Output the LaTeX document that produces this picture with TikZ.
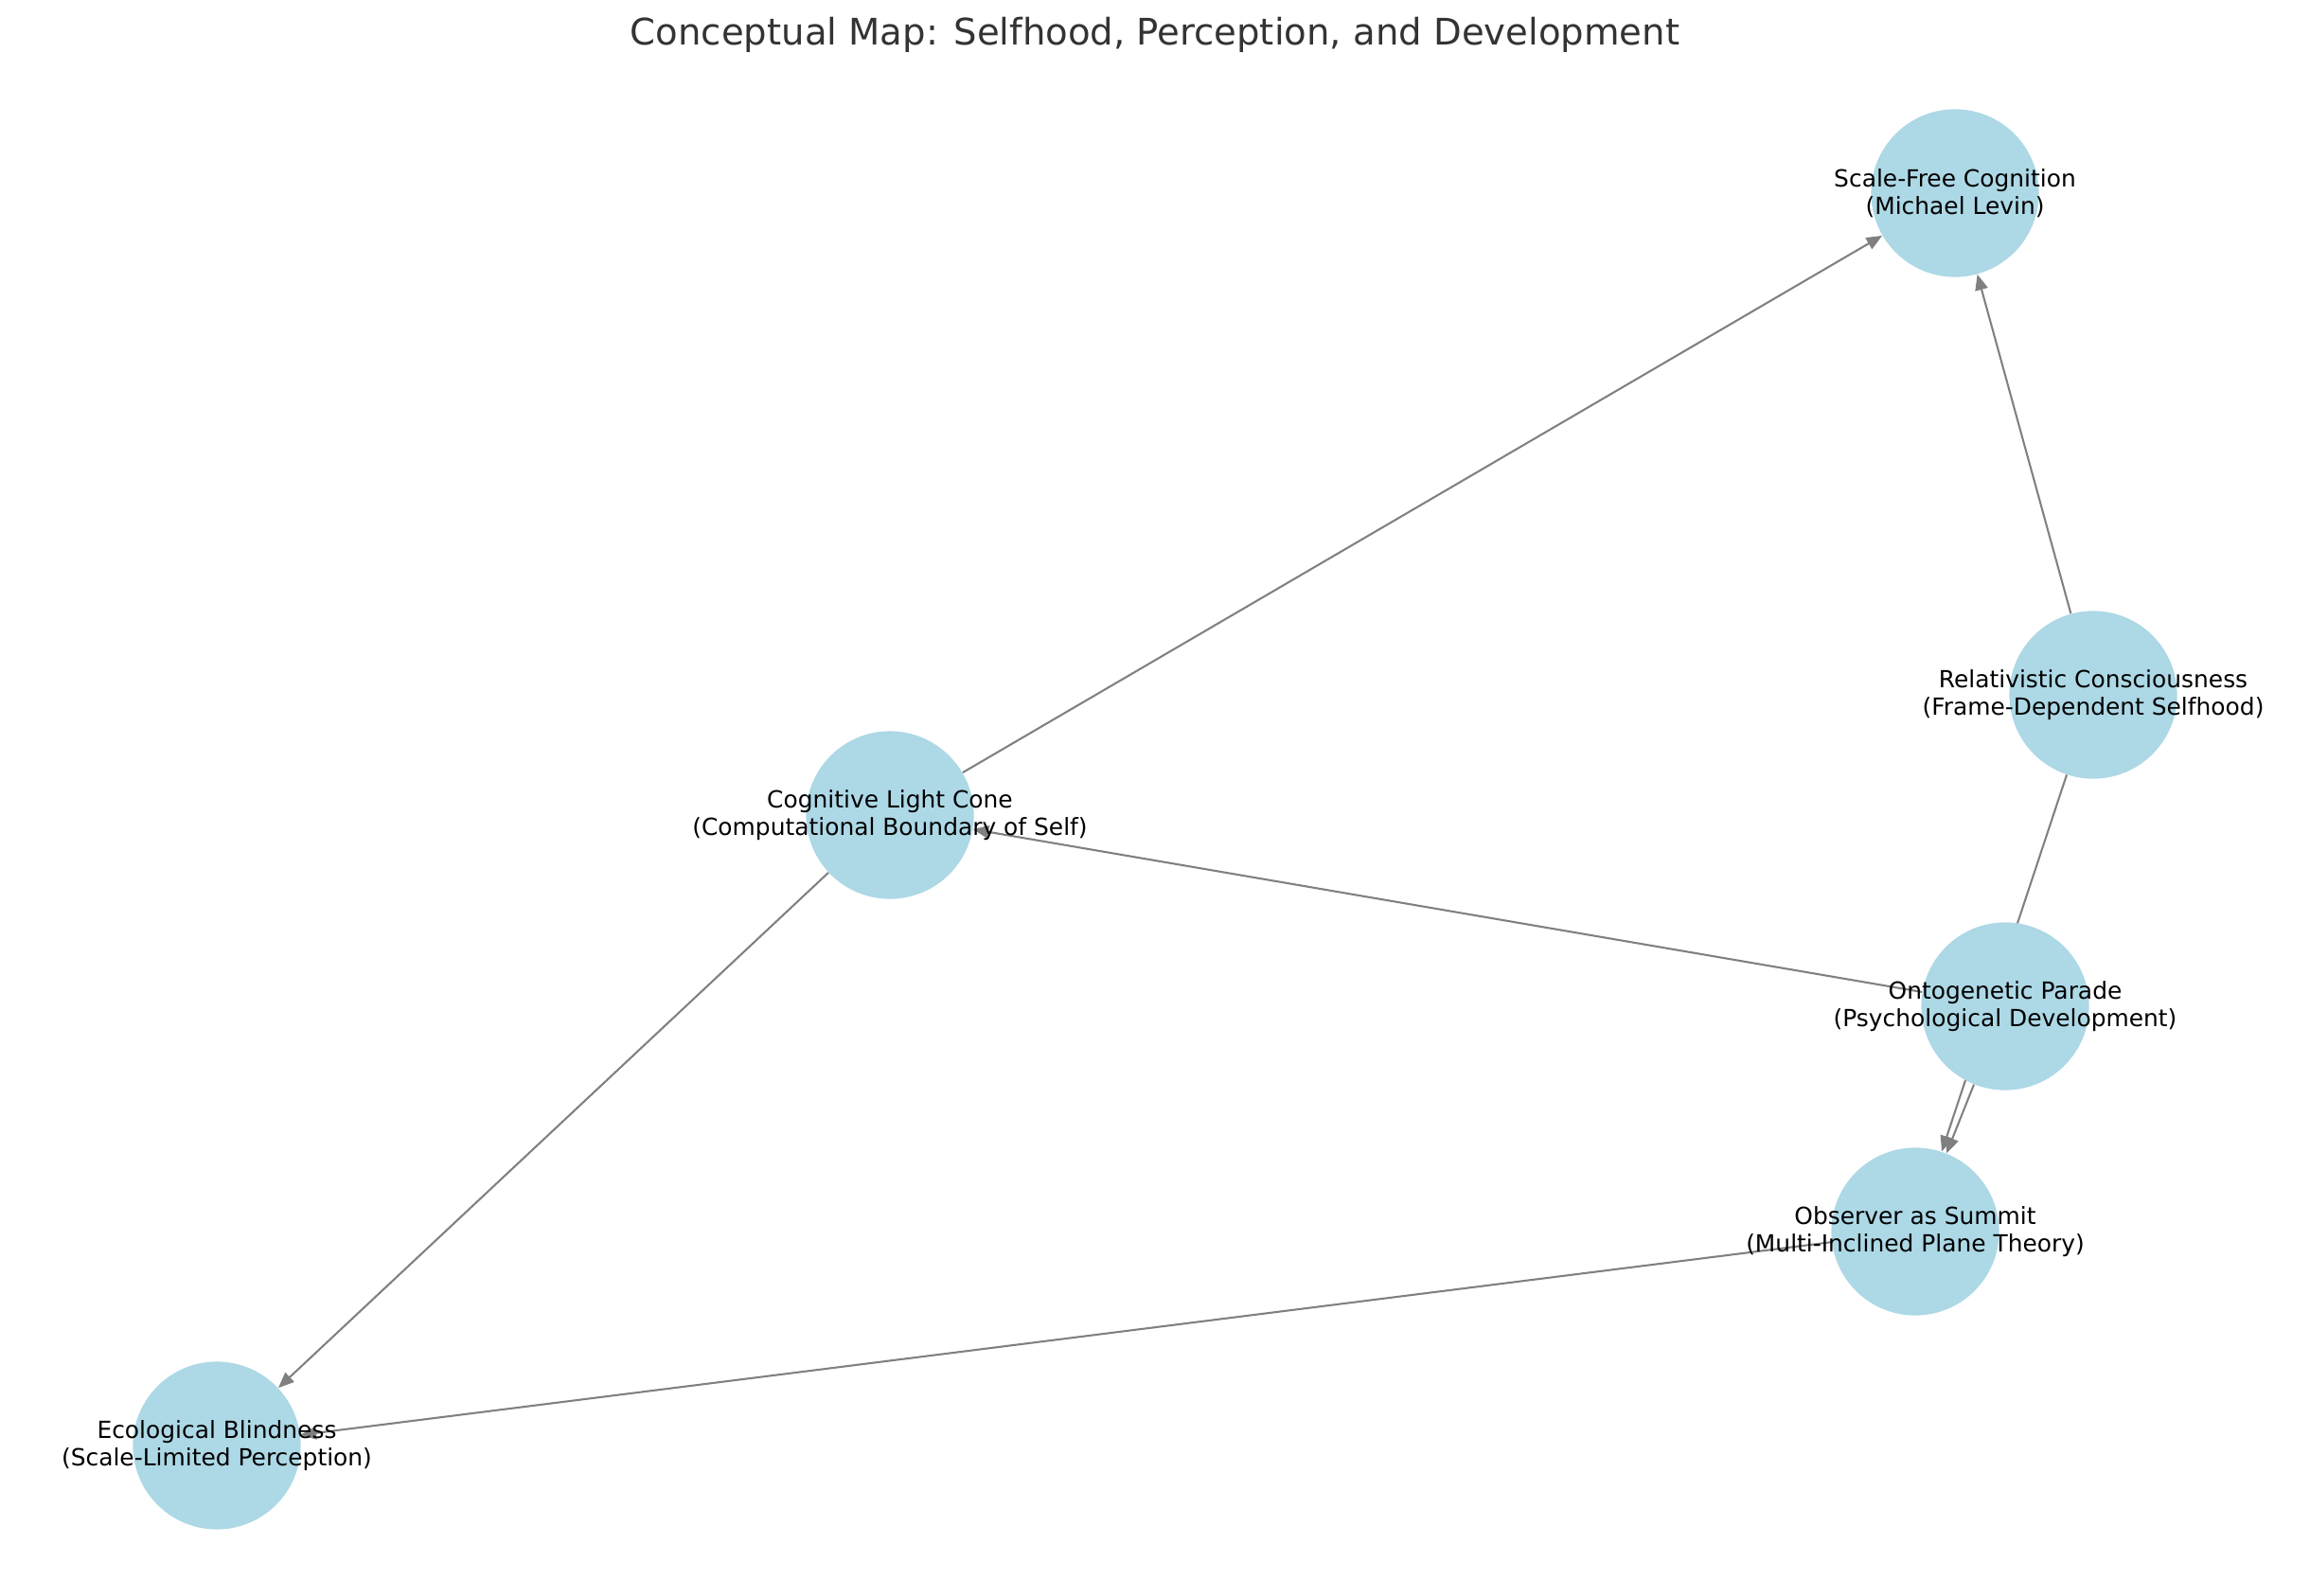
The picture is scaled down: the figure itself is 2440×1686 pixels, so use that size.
\documentclass[tikz,border=0pt]{standalone}
\usepackage{fontspec}
\setmainfont{DejaVu Sans}
\usepackage{tikz}
\usetikzlibrary{arrows.meta, backgrounds}
\usepackage{xcolor}
\definecolor{nodeblue}{HTML}{ADD8E6}
\definecolor{edgegray}{HTML}{808080}
\definecolor{titlegray}{HTML}{333333}

\begin{document}
\begin{tikzpicture}[x=0.016933cm, y=-0.016933cm,
  concept/.style={circle, fill=nodeblue, minimum size=85.4pt, inner sep=0pt},
  conceptlabel/.style={align=center, font=\fontsize{12}{14.2}\selectfont, text=black},
  link/.style={-{Triangle[length=8pt, width=6.5pt]}, edgegray, line width=1pt}]
  \useasboundingbox (0,0) rectangle (2440,1686);

  \node[font=\fontsize{18.6}{22}\selectfont, text=titlegray] (title) at (1220,37)
    {Conceptual Map: Selfhood, Perception, and Development};

  % concept circles
  \node[concept] (scalefree)    at (2065,204)  {};
  \node[concept] (relativistic) at (2211,734)  {};
  \node[concept] (cognitive)    at (940,861)   {};
  \node[concept] (ontogenetic)  at (2118,1063) {};
  \node[concept] (observer)     at (2023,1301) {};
  \node[concept] (ecological)   at (229,1527)  {};

  % links, kept under the circles
  \begin{pgfonlayer}{background}
    \draw[link] (cognitive) -- (scalefree);
    \draw[link] (relativistic) -- (scalefree);
    \draw[link] (relativistic) -- (observer);
    \draw[link] (ontogenetic) -- (cognitive);
    \draw[link] (ontogenetic) -- (observer);
    \draw[link] (observer) -- (ecological);
    \draw[link] (cognitive) -- (ecological);
  \end{pgfonlayer}

  % labels
  \node[conceptlabel] (scalefreetext)    at (scalefree)    {Scale-Free Cognition\\(Michael Levin)};
  \node[conceptlabel] (relativistictext) at (relativistic) {Relativistic Consciousness\\(Frame-Dependent Selfhood)};
  \node[conceptlabel] (cognitivetext)    at (cognitive)    {Cognitive Light Cone\\(Computational Boundary of Self)};
  \node[conceptlabel] (ontogenetictext)  at (ontogenetic)  {Ontogenetic Parade\\(Psychological Development)};
  \node[conceptlabel] (observertext)     at (observer)     {Observer as Summit\\(Multi-Inclined Plane Theory)};
  \node[conceptlabel] (ecologicaltext)   at (ecological)   {Ecological Blindness\\(Scale-Limited Perception)};
\end{tikzpicture}
\end{document}
